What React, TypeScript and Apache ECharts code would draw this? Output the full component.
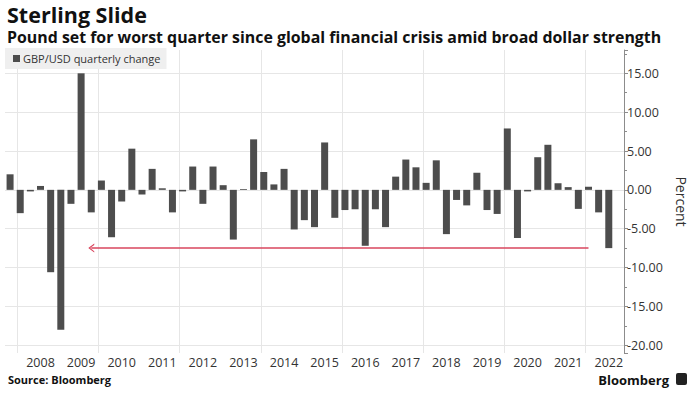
import React, { useEffect, useRef } from "react";
import * as echarts from "echarts";

// Quarterly GBP/USD change (%), 2007Q3 .. 2022Q2
const values: number[] = [
  2.0, -3.0, -0.2, 0.5, -10.6, -18.0, -1.8, 15.0, -2.9, 1.2,
  -6.1, -1.5, 5.3, -0.6, 2.7, 0.2, -2.9, -0.2, 3.0, -1.8,
  3.0, 0.6, -6.4, 0.1, 6.5, 2.3, 0.7, 2.7, -5.1, -3.9,
  -4.8, 6.1, -3.6, -2.6, -2.5, -7.2, -2.5, -4.8, 1.7, 3.9,
  2.9, 0.9, 3.8, -5.7, -1.3, -2.0, 2.2, -2.6, -3.1, 7.9,
  -6.2, -0.2, 4.2, 5.8, 0.85, 0.35, -2.45, 0.4, -2.9, -7.5,
];

// Quarter categories 2007Q3 .. 2022Q3 (last slot is empty)
const quarters: string[] = [];
for (let i = 0; i < 61; i++) {
  const y = 2007 + Math.floor((i + 2) / 4);
  const q = ((i + 2) % 4) + 1;
  quarters.push(`${y}Q${q}`);
}

const gridQuarters = ["2007Q4", "2009Q4", "2011Q4", "2013Q4", "2015Q4", "2017Q4", "2019Q4", "2021Q4"];
const arrowFrom = "2021Q4";
const arrowTo = "2009Q3";
const arrowLevel = -7.5;

const title = "Sterling Slide";
const subtitle = "Pound set for worst quarter since global financial crisis amid broad dollar strength";
const seriesName = "GBP/USD quarterly change";

const FONT = "'Open Sans', 'Liberation Sans', sans-serif";

export default function App() {
  const ref = useRef<HTMLDivElement>(null);
  useEffect(() => {
    if (!ref.current) return;
    const chart = echarts.init(ref.current, undefined, { renderer: "svg" });
    chart.setOption({
      animation: false,
      backgroundColor: "#ffffff",
      textStyle: { fontFamily: FONT },
      title: [
        {
          text: title,
          left: 7,
          top: 3,
          padding: 0,
          textStyle: { fontSize: 21.5, lineHeight: 22, fontWeight: "bold", color: "#111", fontFamily: FONT },
        },
        {
          text: subtitle,
          left: 7,
          top: 29,
          padding: 0,
          textStyle: { fontSize: 15.9, lineHeight: 16, fontWeight: "bold", color: "#111", fontFamily: FONT },
        },
      ],
      legend: {
        left: 5,
        top: 48,
        padding: [5, 6, 5, 8],
        backgroundColor: "#efefef",
        itemWidth: 7,
        itemHeight: 7,
        itemGap: 4,
        icon: "rect",
        textStyle: { fontSize: 11, color: "#333", fontFamily: FONT, padding: [0, 0, 0, -2] },
        selectedMode: false,
        data: [seriesName],
      },
      grid: { left: 5, right: 71, top: 50, bottom: 40 },
      xAxis: {
        type: "category",
        data: quarters,
        boundaryGap: true,
        axisLine: { show: false },
        axisTick: { show: false },
        splitLine: { show: false },
        axisLabel: {
          interval: (i: number, v: string) => v.endsWith("Q2"),
          formatter: (v: string) => v.slice(0, 4),
          fontSize: 12.5,
          color: "#333",
          margin: 3,
          fontFamily: FONT,
        },
      },
      yAxis: {
        type: "value",
        position: "right",
        min: -21,
        max: 18,
        minInterval: 5,
        maxInterval: 5,
        splitNumber: 8,
        name: "Percent",
        nameLocation: "middle",
        nameRotate: -90,
        nameGap: 50,
        nameTextStyle: { fontSize: 14, color: "#333", fontFamily: FONT },
        axisLine: { show: true, lineStyle: { color: "#8c8c8c", width: 1 } },
        axisTick: { show: true, length: 4, lineStyle: { color: "#8c8c8c" } },
        minorTick: { show: true, splitNumber: 2, length: 3, lineStyle: { color: "#8c8c8c" } },
        axisLabel: {
          showMinLabel: false,
          showMaxLabel: false,
          formatter: (v: number) => v.toFixed(2),
          fontSize: 12.5,
          color: "#333",
          margin: 3,
          fontFamily: FONT,
        },
        splitLine: {
          show: true,
          showMinLine: false,
          showMaxLine: false,
          lineStyle: { color: "#e6e6e6", width: 1 },
        },
      },
      series: [
        {
          name: "grid",
          type: "bar",
          data: [],
          z: 0,
          markLine: {
            silent: true,
            z: 0,
            symbol: ["none", "none"],
            label: { show: false },
            lineStyle: { color: "#e6e6e6", width: 1, type: "solid" },
            emphasis: { disabled: true },
            data: gridQuarters.map((q) => ({ xAxis: q })),
          },
        },
        {
          name: seriesName,
          type: "bar",
          data: values,
          barWidth: 7,
          barGap: "-100%",
          itemStyle: { color: "#4d4d4d" },
          emphasis: { disabled: true },
          markLine: {
            silent: true,
            z: 5,
            symbol: ["none", "path://M5 0 L10 10 L8.4 10 L5 3.2 L1.6 10 L0 10 Z"],
            symbolSize: [9, 6],
            label: { show: false },
            emphasis: { disabled: true },
            lineStyle: { color: "#d9465e", width: 1.5, type: "solid" },
            data: [[{ coord: [arrowFrom, arrowLevel] }, { coord: [arrowTo, arrowLevel] }]],
          },
        },
      ],
      graphic: [
        {
          type: "text",
          left: 8,
          top: 374,
          style: { text: "Source: Bloomberg", fontSize: 11, fontWeight: "bold", fill: "#111", fontFamily: FONT },
        },
        {
          type: "text",
          right: 27,
          top: 373,
          style: { text: "Bloomberg", fontSize: 13, fontWeight: "bold", fill: "#111", fontFamily: FONT },
        },
        {
          type: "rect",
          right: 9,
          top: 373,
          shape: { width: 11, height: 12, r: 2 },
          style: { fill: "#222" },
        },
      ],
    });
    return () => chart.dispose();
  }, []);
  return (
    <div
      ref={ref}
      style={{ position: "fixed", left: 0, top: 0, width: 696, height: 393 }}
    />
  );
}
